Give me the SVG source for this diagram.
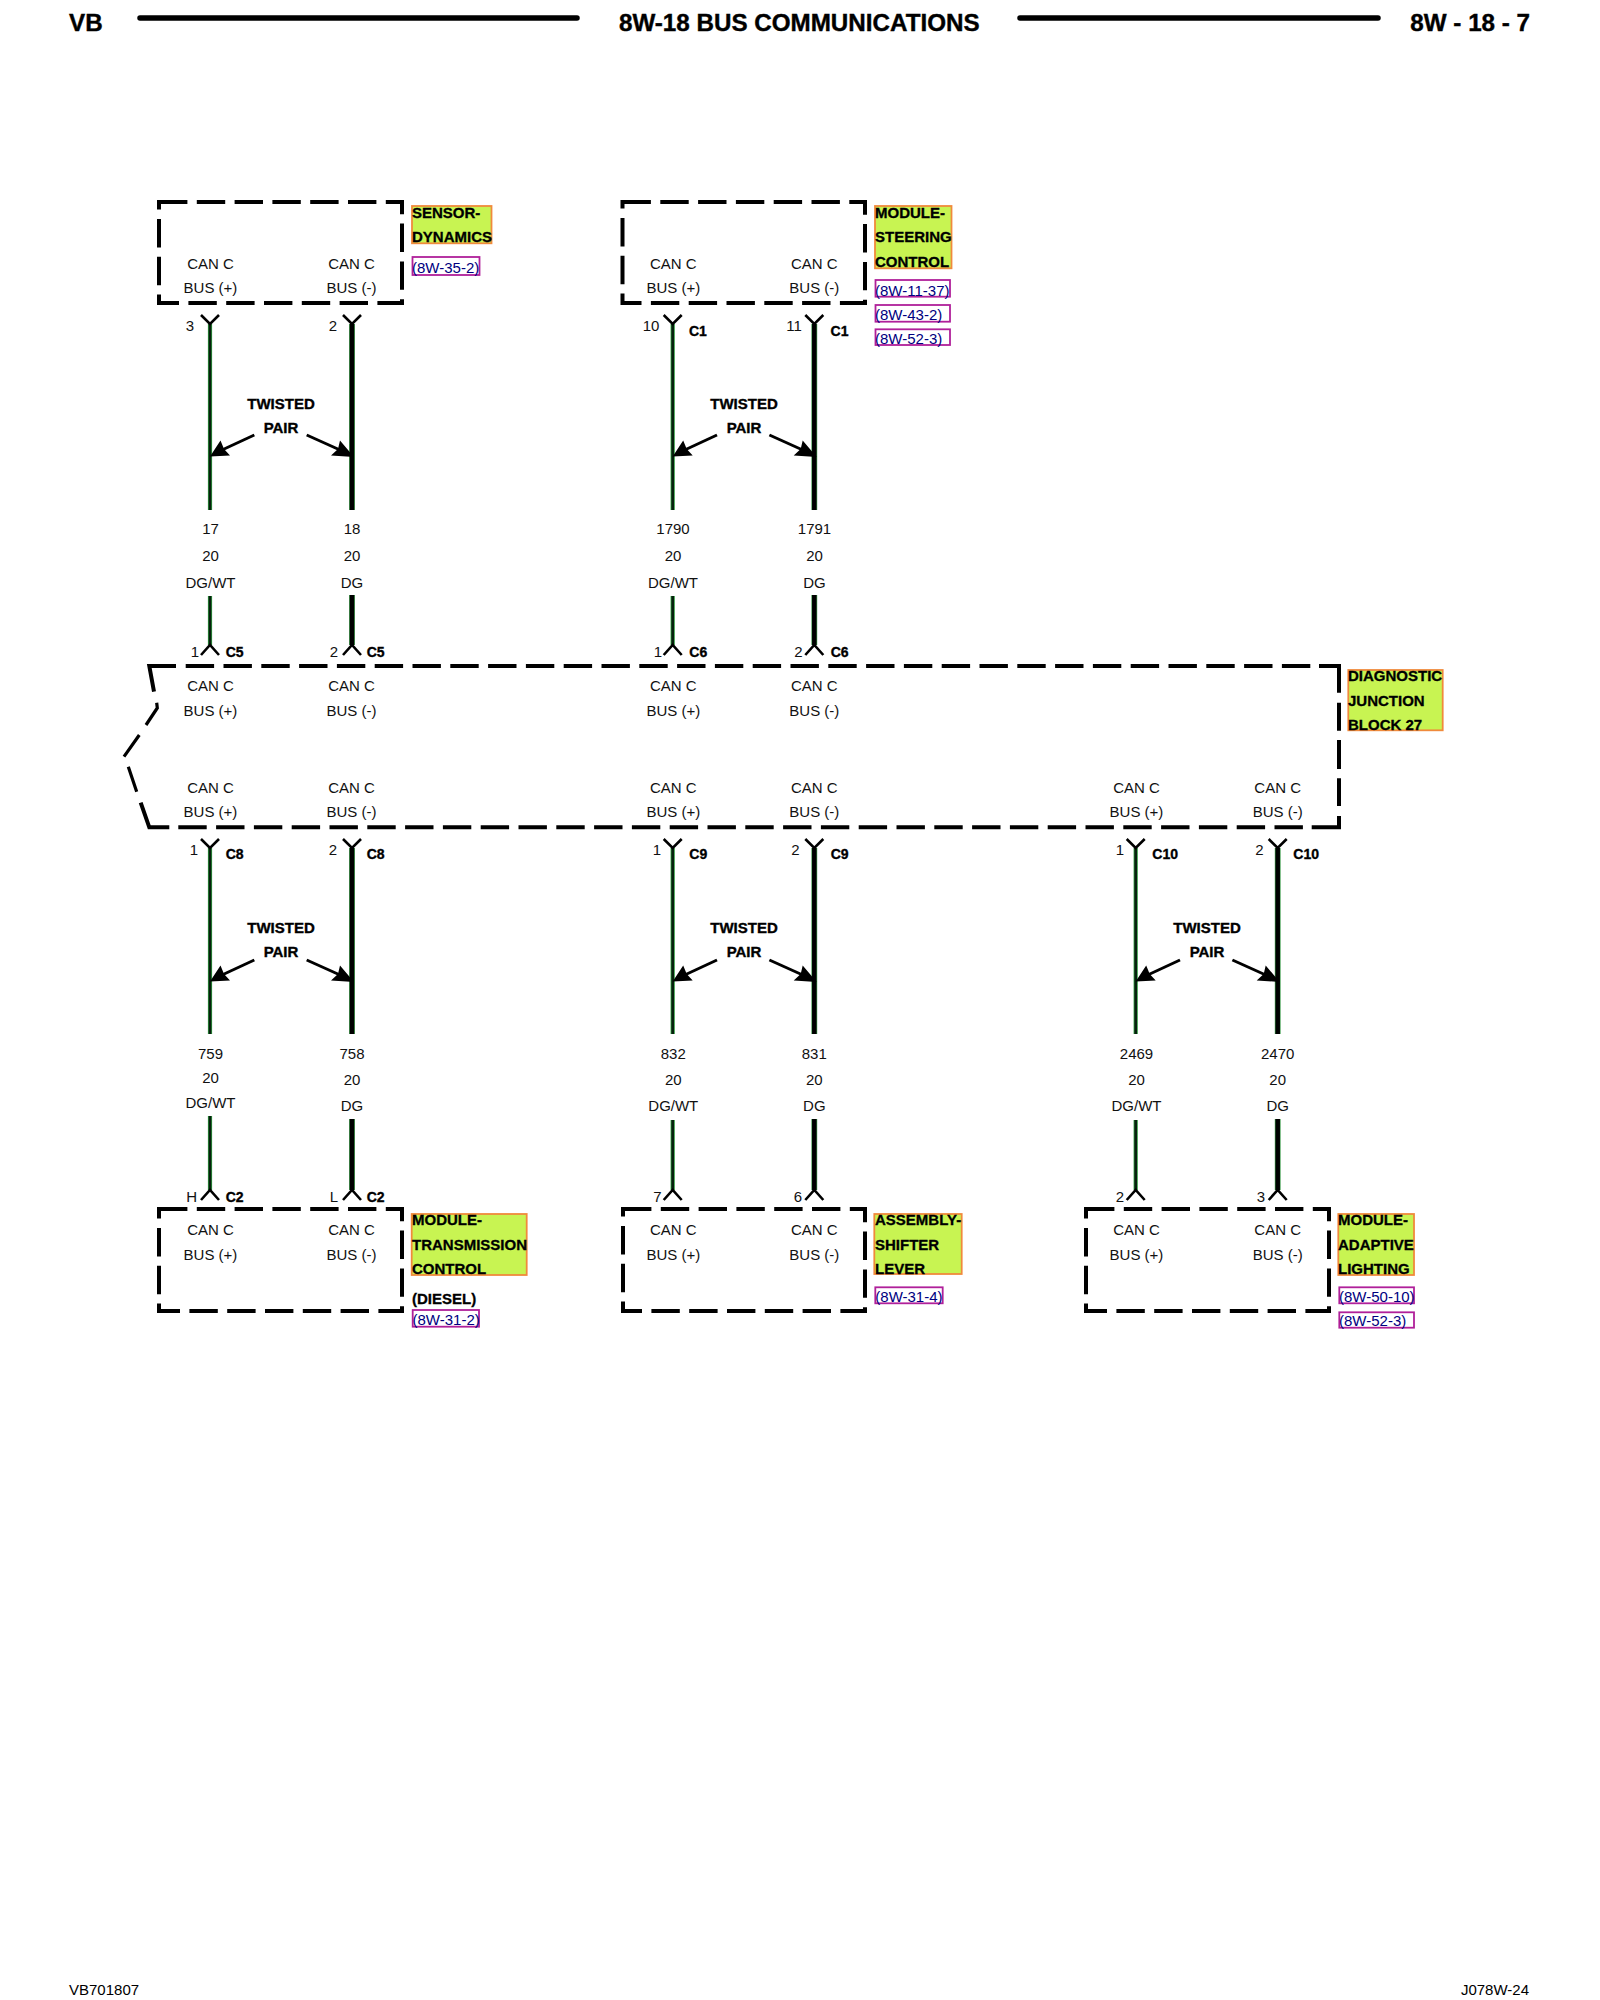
<svg xmlns="http://www.w3.org/2000/svg" width="1600" height="2000" viewBox="0 0 1600 2000">
<style>
text{font-family:"Liberation Sans",Arial,sans-serif;font-size:15px;fill:#111}
.c{text-anchor:middle}
.b{font-weight:bold;fill:#000;stroke:#000;stroke-width:.35}
.h{font-weight:bold;font-size:24.2px;fill:#000;stroke:#000;stroke-width:.4}
.k{font-weight:bold;font-size:14px;fill:#000;stroke:#000;stroke-width:.35}
.lab{font-weight:bold;fill:#000;stroke:#000;stroke-width:.3}
.ref{fill:#00007f}
.f{font-size:15px;fill:#000}
.dash{fill:none;stroke:#000;stroke-width:4;stroke-dasharray:28.4 9.4}
.solid{fill:none;stroke:#000;stroke-width:4}
.thin{fill:none;stroke:#000;stroke-width:3.2}
.rule{fill:none;stroke:#000;stroke-width:5.5;stroke-linecap:round}
.lime{fill:#c8f452;stroke:#f08a3c;stroke-width:1.8}
.rbox{fill:#fff;stroke:#b0209a;stroke-width:1.8}
.wa{stroke:#2f9a40;stroke-width:4.2;fill:none}
.wb{stroke:#07200d;stroke-width:2.6;fill:none}
.wc{stroke:#3a9a48;stroke-width:5.8;fill:none}
.wd{stroke:#000;stroke-width:4.5;fill:none}
.y{fill:none;stroke:#000;stroke-width:2.6}
.ah{fill:#000;stroke:none}
.al{fill:none;stroke:#000;stroke-width:3}
</style>
<defs>
<path id="yd" d="M-9 315L0 324L9 315"/>
<path id="yu" d="M-9 655L0 645L9 655"/>
<g id="arrows">
<path class="al" d="M254.3 435L222 450"/>
<path class="ah" d="M210 456.5L220.5 440.5L224 449L230 455.5Z"/>
<path class="al" d="M306.7 435L340 450"/>
<path class="ah" d="M354 457L340 440.5L338 449L331 455.5Z"/>
</g>
</defs>

<g id="header">
<text class="h" x="69" y="31">VB</text>
<path class="rule" d="M140 18H577M1020 18H1378"/>
<text class="h" x="619" y="31">8W-18 BUS COMMUNICATIONS</text>
<text class="h" x="1530" y="31" text-anchor="end">8W - 18 - 7</text>
</g>

<g id="connectors">
<path class="wa" d="M210 324V510M210 596V645M672.7 324V510M672.7 596V645M210 848V1034M672.7 848V1034M1135.7 848V1034M210 1116V1190M672.7 1120V1190M1135.7 1120V1190"/>
<path class="wb" d="M210 324V510M210 596V645M672.7 324V510M672.7 596V645M210 848V1034M672.7 848V1034M1135.7 848V1034M210 1116V1190M672.7 1120V1190M1135.7 1120V1190"/>
<path class="wc" d="M352 324V510M352 595V645M814.3 324V510M814.3 595V645M352 848V1034M814.3 848V1034M1277.7 848V1034M352 1119V1190M814.3 1119V1190M1277.7 1119V1190"/>
<path class="wd" d="M352 324V510M352 595V645M814.3 324V510M814.3 595V645M352 848V1034M814.3 848V1034M1277.7 848V1034M352 1119V1190M814.3 1119V1190M1277.7 1119V1190"/>
<g class="y">
<use href="#yd" x="210"/><use href="#yd" x="352"/><use href="#yd" x="672.7"/><use href="#yd" x="814.3"/>
<use href="#yu" x="210"/><use href="#yu" x="352"/><use href="#yu" x="672.7"/><use href="#yu" x="814.3"/>
<use href="#yd" x="210" y="524"/><use href="#yd" x="352" y="524"/><use href="#yd" x="672.7" y="524"/><use href="#yd" x="814.3" y="524"/><use href="#yd" x="1135.7" y="524"/><use href="#yd" x="1277.7" y="524"/>
<use href="#yu" x="210" y="545"/><use href="#yu" x="352" y="545"/><use href="#yu" x="672.7" y="545"/><use href="#yu" x="814.3" y="545"/><use href="#yu" x="1135.7" y="545"/><use href="#yu" x="1277.7" y="545"/>
</g>
<use href="#arrows"/>
<use href="#arrows" x="462.7"/>
<use href="#arrows" y="525"/>
<use href="#arrows" x="462.7" y="525"/>
<use href="#arrows" x="925.7" y="525"/>
</g>

<g id="wire-labels">
<text class="b c" x="281" y="409">TWISTED</text><text class="b c" x="281" y="433">PAIR</text>
<text class="b c" x="744" y="409">TWISTED</text><text class="b c" x="744" y="433">PAIR</text>
<text class="b c" x="281" y="933">TWISTED</text><text class="b c" x="281" y="957">PAIR</text>
<text class="b c" x="744" y="933">TWISTED</text><text class="b c" x="744" y="957">PAIR</text>
<text class="b c" x="1207" y="933">TWISTED</text><text class="b c" x="1207" y="957">PAIR</text>

<text class="c" x="190" y="331">3</text><text class="c" x="333" y="331">2</text>
<text class="c" x="651" y="331">10</text><text class="k" x="689" y="336">C1</text>
<text class="c" x="794" y="331">11</text><text class="k" x="830.6" y="336">C1</text>

<text class="c" x="210.5" y="534">17</text><text class="c" x="210.5" y="560.5">20</text><text class="c" x="210.5" y="588">DG/WT</text>
<text class="c" x="352" y="534">18</text><text class="c" x="352" y="560.5">20</text><text class="c" x="352" y="588">DG</text>
<text class="c" x="673" y="534">1790</text><text class="c" x="673" y="560.5">20</text><text class="c" x="673" y="588">DG/WT</text>
<text class="c" x="814.5" y="534">1791</text><text class="c" x="814.5" y="560.5">20</text><text class="c" x="814.5" y="588">DG</text>

<text class="c" x="195" y="657">1</text><text class="k" x="225.7" y="657">C5</text>
<text class="c" x="334" y="657">2</text><text class="k" x="366.7" y="657">C5</text>
<text class="c" x="658" y="657">1</text><text class="k" x="689.3" y="657">C6</text>
<text class="c" x="798.3" y="657">2</text><text class="k" x="830.7" y="657">C6</text>

<text class="c" x="194" y="855">1</text><text class="k" x="225.7" y="859">C8</text>
<text class="c" x="333" y="855">2</text><text class="k" x="366.7" y="859">C8</text>
<text class="c" x="657" y="855">1</text><text class="k" x="689.3" y="859">C9</text>
<text class="c" x="795.5" y="855">2</text><text class="k" x="830.7" y="859">C9</text>
<text class="c" x="1120" y="855">1</text><text class="k" x="1152.3" y="859">C10</text>
<text class="c" x="1259.3" y="855">2</text><text class="k" x="1293.3" y="859">C10</text>

<text class="c" x="210.5" y="1059">759</text><text class="c" x="210.5" y="1083">20</text><text class="c" x="210.5" y="1108">DG/WT</text>
<text class="c" x="352" y="1059">758</text><text class="c" x="352" y="1085">20</text><text class="c" x="352" y="1111">DG</text>
<text class="c" x="673.3" y="1059">832</text><text class="c" x="673.3" y="1085">20</text><text class="c" x="673.3" y="1111">DG/WT</text>
<text class="c" x="814.3" y="1059">831</text><text class="c" x="814.3" y="1085">20</text><text class="c" x="814.3" y="1111">DG</text>
<text class="c" x="1136.5" y="1059">2469</text><text class="c" x="1136.5" y="1085">20</text><text class="c" x="1136.5" y="1111">DG/WT</text>
<text class="c" x="1277.7" y="1059">2470</text><text class="c" x="1277.7" y="1085">20</text><text class="c" x="1277.7" y="1111">DG</text>

<text class="c" x="191.7" y="1202">H</text><text class="k" x="225.7" y="1202">C2</text>
<text class="c" x="334" y="1202">L</text><text class="k" x="366.7" y="1202">C2</text>
<text class="c" x="657.3" y="1202">7</text><text class="c" x="798" y="1202">6</text>
<text class="c" x="1120" y="1202">2</text><text class="c" x="1261" y="1202">3</text>
</g>

<g id="sensor-dynamics">
<path class="dash" d="M159 202H402V303H159Z"/>
<text class="c" x="210.5" y="268.5">CAN C</text><text class="c" x="210.5" y="292.5">BUS (+)</text>
<text class="c" x="351.5" y="268.5">CAN C</text><text class="c" x="351.5" y="292.5">BUS (-)</text>
<rect class="lime" x="412" y="206" width="79.5" height="37.3"/>
<text class="lab" x="412" y="218">SENSOR-</text><text class="lab" x="412" y="241.7">DYNAMICS</text>
<rect class="rbox" x="412.5" y="257" width="67" height="18"/>
<text class="ref" x="412" y="272.7">(8W-35-2)</text>
</g>

<g id="module-steering-control">
<path class="dash" d="M622.5 202H865V303H622.5Z"/>
<text class="c" x="673.3" y="268.5">CAN C</text><text class="c" x="673.3" y="292.5">BUS (+)</text>
<text class="c" x="814.3" y="268.5">CAN C</text><text class="c" x="814.3" y="292.5">BUS (-)</text>
<rect class="lime" x="875" y="206" width="76.5" height="62.3"/>
<text class="lab" x="875" y="218.3">MODULE-</text><text class="lab" x="875" y="241.7">STEERING</text><text class="lab" x="875" y="267">CONTROL</text>
<rect class="rbox" x="875.5" y="280" width="74.5" height="16.7"/>
<text class="ref" x="875" y="295.5">(8W-11-37)</text>
<rect class="rbox" x="875.5" y="305" width="74.5" height="16.7"/>
<text class="ref" x="875" y="320">(8W-43-2)</text>
<rect class="rbox" x="875.5" y="329.3" width="74.5" height="15.7"/>
<text class="ref" x="875" y="344">(8W-52-3)</text>
</g>

<g id="diagnostic-junction-block-27">
<path class="solid" d="M176 666H149.3L154 691.7"/>
<path class="thin" d="M156.7 702.7L157.3 708L146 725M139.3 735L124 756.7M128.3 766.7L136.7 791.7"/>
<path class="solid" d="M140.7 802.7L149.3 827.3H169.3"/>
<path class="dash" d="M185.7 666H1311M178.3 827.3H1303"/>
<path class="solid" d="M1319 666H1339V692.7M1339 702.7V730.7M1339 740V769M1339 778.3V806M1339 816V827.3H1311.7"/>
<text class="c" x="210.5" y="690.7">CAN C</text><text class="c" x="210.5" y="715.7">BUS (+)</text>
<text class="c" x="351.5" y="690.7">CAN C</text><text class="c" x="351.5" y="715.7">BUS (-)</text>
<text class="c" x="673.3" y="690.7">CAN C</text><text class="c" x="673.3" y="715.7">BUS (+)</text>
<text class="c" x="814.3" y="690.7">CAN C</text><text class="c" x="814.3" y="715.7">BUS (-)</text>
<text class="c" x="210.5" y="792.5">CAN C</text><text class="c" x="210.5" y="816.7">BUS (+)</text>
<text class="c" x="351.5" y="792.5">CAN C</text><text class="c" x="351.5" y="816.7">BUS (-)</text>
<text class="c" x="673.3" y="792.5">CAN C</text><text class="c" x="673.3" y="816.7">BUS (+)</text>
<text class="c" x="814.3" y="792.5">CAN C</text><text class="c" x="814.3" y="816.7">BUS (-)</text>
<text class="c" x="1136.5" y="792.5">CAN C</text><text class="c" x="1136.5" y="816.7">BUS (+)</text>
<text class="c" x="1277.7" y="792.5">CAN C</text><text class="c" x="1277.7" y="816.7">BUS (-)</text>
<rect class="lime" x="1348.3" y="670" width="94.4" height="60.3"/>
<text class="lab" x="1348" y="681">DIAGNOSTIC</text><text class="lab" x="1348" y="706">JUNCTION</text><text class="lab" x="1348" y="730">BLOCK 27</text>
</g>

<g id="module-transmission-control">
<path class="dash" d="M159 1209H402V1311H159Z"/>
<text class="c" x="210.5" y="1235">CAN C</text><text class="c" x="210.5" y="1260">BUS (+)</text>
<text class="c" x="351.5" y="1235">CAN C</text><text class="c" x="351.5" y="1260">BUS (-)</text>
<rect class="lime" x="411.7" y="1214" width="115" height="61"/>
<text class="lab" x="412" y="1225">MODULE-</text><text class="lab" x="412" y="1250">TRANSMISSION</text><text class="lab" x="412" y="1274.3">CONTROL</text>
<text class="lab" x="412" y="1304">(DIESEL)</text>
<rect class="rbox" x="412.7" y="1310" width="66.3" height="16.7"/>
<text class="ref" x="412.5" y="1325">(8W-31-2)</text>
</g>

<g id="assembly-shifter-lever">
<path class="dash" d="M623 1209H865V1311H623Z"/>
<text class="c" x="673.3" y="1235">CAN C</text><text class="c" x="673.3" y="1260">BUS (+)</text>
<text class="c" x="814.3" y="1235">CAN C</text><text class="c" x="814.3" y="1260">BUS (-)</text>
<rect class="lime" x="874.3" y="1214" width="87.4" height="60"/>
<text class="lab" x="875" y="1225">ASSEMBLY-</text><text class="lab" x="875" y="1250">SHIFTER</text><text class="lab" x="875" y="1274.3">LEVER</text>
<rect class="rbox" x="875.3" y="1287.3" width="67.4" height="16"/>
<text class="ref" x="875.3" y="1301.7">(8W-31-4)</text>
</g>

<g id="module-adaptive-lighting">
<path class="dash" d="M1086 1209H1329V1311H1086Z"/>
<text class="c" x="1136.5" y="1235">CAN C</text><text class="c" x="1136.5" y="1260">BUS (+)</text>
<text class="c" x="1277.7" y="1235">CAN C</text><text class="c" x="1277.7" y="1260">BUS (-)</text>
<rect class="lime" x="1338.3" y="1214" width="75.7" height="61"/>
<text class="lab" x="1338" y="1225">MODULE-</text><text class="lab" x="1338" y="1250">ADAPTIVE</text><text class="lab" x="1338" y="1274.3">LIGHTING</text>
<rect class="rbox" x="1339.3" y="1287.3" width="74.7" height="16"/>
<text class="ref" x="1339" y="1301.7">(8W-50-10)</text>
<rect class="rbox" x="1339.3" y="1312.3" width="74.7" height="15.4"/>
<text class="ref" x="1339" y="1325.5">(8W-52-3)</text>
</g>

<g id="footer">
<text class="f" x="69" y="1995">VB701807</text>
<text class="f" x="1529" y="1995" text-anchor="end">J078W-24</text>
</g>
</svg>
